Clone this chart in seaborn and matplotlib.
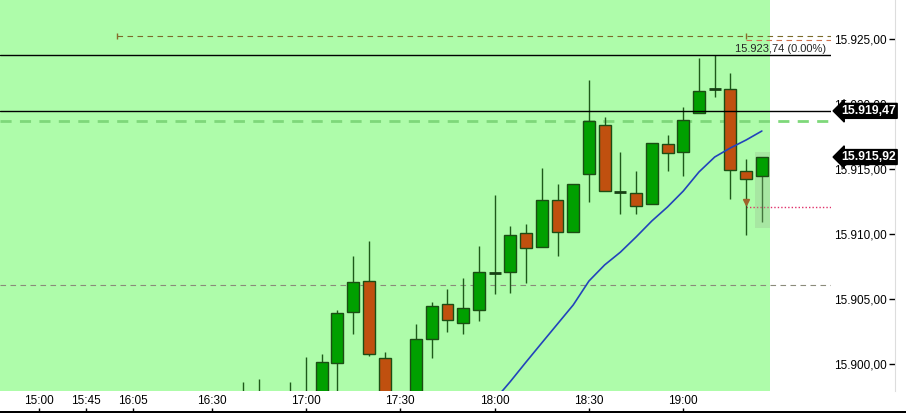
import matplotlib
matplotlib.use("Agg")
import matplotlib.pyplot as plt
import matplotlib.transforms as mtransforms
from matplotlib.patches import Rectangle
import numpy as np
import pandas as pd
import seaborn as sns

# bar index (0 = 17:00 bar), 5 minute candles
bar_idx = list(range(-4, 30))
opens = [15897.2, 15897.6, 15897.1, 15896.6, 15897.4, 15897.2, 15900.08, 15904.0, 15906.38, 15900.46,
         15897.0, 15897.2, 15901.92, 15904.62, 15903.15, 15904.15, 15907.0, 15907.08, 15910.08, 15909.0,
         15912.62, 15910.15, 15914.62, 15918.38, 15913.23, 15913.15, 15912.31, 15916.92, 15916.31, 15919.31,
         15921.15, 15921.15, 15914.85, 15914.46]
highs = [15898.62, 15898.85, 15897.7, 15898.62, 15900.54, 15900.77, 15904.15, 15908.31, 15909.46, 15900.92,
         15897.6, 15903.08, 15904.77, 15905.77, 15906.62, 15909.08, 15913.0, 15910.62, 15910.77, 15915.08,
         15913.85, 15913.85, 15921.85, 15919.0, 15916.31, 15914.85, 15917.0, 15917.62, 15919.77, 15923.54,
         15923.74, 15922.38, 15915.77, 15915.92]
lows = [15896.4, 15896.8, 15896.2, 15895.9, 15896.9, 15896.8, 15897.5, 15902.31, 15900.6, 15896.3,
        15895.8, 15896.5, 15900.46, 15902.46, 15902.31, 15903.31, 15905.38, 15905.46, 15906.23, 15909.0,
        15908.31, 15910.15, 15912.46, 15913.31, 15911.54, 15911.54, 15912.31, 15914.85, 15914.46, 15919.31,
        15920.54, 15912.69, 15909.92, 15910.92]
closes = [15897.6, 15897.1, 15896.6, 15897.4, 15897.8, 15900.15, 15903.92, 15906.31, 15900.77, 15897.0,
          15897.3, 15901.92, 15904.46, 15903.38, 15904.31, 15907.08, 15907.0, 15909.92, 15908.92, 15912.62,
          15910.15, 15913.85, 15918.69, 15913.31, 15913.23, 15912.15, 15917.0, 15916.23, 15918.77, 15921.0,
          15921.15, 15914.92, 15914.23, 15915.92]

# moving average from bar 11 on
ma_idx = list(range(11, 30))
ma_vals = [15896.3, 15897.23, 15898.65, 15900.15, 15901.62, 15903.08, 15904.54, 15906.38, 15907.62, 15908.6,
           15909.77, 15911.0, 15912.08, 15913.3, 15914.77, 15915.92, 15916.62, 15917.23, 15917.92]

time_pos = [-17, -14, -11, -6, 0, 6, 12, 18, 24]
time_labels = ["15:00", "15:45", "16:05", "16:30", "17:00", "17:30", "18:00", "18:30", "19:00"]
price_ticks = [15900, 15905, 15910, 15915, 15920, 15925]

session_high = 15923.74
last_close = 15915.92
black_level = 15919.47
green_level = 15918.69
gray_level = 15906.08
red_dot_level = 15912.08
drawn_level = 15925.23
red_dash_level = 15924.92


def de_fmt(v):
    return f"{v:,.2f}".replace(",", "X").replace(".", ",").replace("X", ".")


sns.set_style("white")
plt.rcParams["font.family"] = ["Liberation Sans", "DejaVu Sans"]

fig = plt.figure(figsize=(9.06, 4.13), dpi=100)
ax = fig.add_axes([0, 22 / 413, 831 / 906, 391 / 413])
ax.set_facecolor("white")

xmin, xmax = -19.47, 33.4
ax.set_xlim(xmin, xmax)
ax.set_ylim(15897.92, 15928.0)
ax.axvspan(xmin, 29.52, color="#AEFCAA", zorder=0, lw=0)

df = pd.DataFrame({"i": bar_idx, "o": opens, "h": highs, "l": lows, "c": closes})
up = "#00A000"
down = "#C0500F"
edge = "#1B4D14"

ax.vlines(df["i"], df["l"], df["h"], color="#1E5A1A", lw=1, zorder=2)
body = df[(df["c"] - df["o"]).abs() >= 0.15]
doji = df[(df["c"] - df["o"]).abs() < 0.15]
ax.bar(body["i"], (body["c"] - body["o"]).abs(), bottom=body[["o", "c"]].min(axis=1), width=0.76,
       color=np.where(body["c"] > body["o"], up, down), edgecolor=edge, lw=1, zorder=3)
ax.hlines(doji["c"], doji["i"] - 0.38, doji["i"] + 0.38, color="#174014", lw=2, zorder=3)

ma = pd.DataFrame({"i": ma_idx, "ma": ma_vals})
sns.lineplot(data=ma, x="i", y="ma", ax=ax, color="#2244BB", lw=1.2, zorder=4)

# horizontal levels
ax.axhline(session_high, color="black", lw=1, zorder=5)
ax.axhline(black_level, color="black", lw=1, zorder=5)
ax.axhline(green_level, color="#7ED87A", lw=2, ls=(0, (4, 3)), zorder=1)
ax.axhline(gray_level, color="#8A8A7A", lw=0.8, ls=(0, (5, 4)), zorder=1)
ax.hlines(drawn_level, -12, xmax, color="#7A6A2A", lw=0.8, ls=(0, (5, 4)), zorder=1)
ax.vlines([-12, 28], drawn_level - 0.2, drawn_level + 0.25, color="#8A6A2A", lw=1, zorder=1)
ax.hlines(red_dash_level, 28, xmax, color="#D2704A", lw=0.8, ls=(0, (5, 4)), zorder=1)
ax.hlines(red_dot_level, 28, xmax, color="#E0306A", lw=1, ls=(0, (1, 1.5)), zorder=1)
ax.plot([28], [red_dot_level + 0.35], marker="v", ms=5, color="#A0622A", zorder=6)
ax.add_patch(Rectangle((28.56, 15910.46), 0.96, 5.85, fc="#9AB890", alpha=0.3, lw=0, zorder=2))

ax.text(33.08, session_high + 0.12, de_fmt(session_high) + " (0.00%)", ha="right", va="bottom",
        fontsize=8, zorder=6)

# price boxes on the right
trans = mtransforms.blended_transform_factory(ax.transAxes, ax.transData)
for lvl in [black_level, last_close]:
    ax.text(1.012, lvl, de_fmt(lvl), transform=trans, ha="left", va="center", color="white", fontsize=8.8,
            fontweight="bold", zorder=10, clip_on=False,
            bbox=dict(boxstyle="larrow,pad=0.12", fc="black", ec="black"))

# axes: y labels on a spine placed at the far right, x labels above a spine at the bottom
for s in ["right", "bottom"]:
    ax.spines[s].set_visible(False)
ax.spines["left"].set_position(("axes", 895 / 831))
ax.spines["left"].set_color("#DDDDDD")
ax.spines["top"].set_position(("axes", -21 / 391))
ax.spines["top"].set_color("black")
ax.spines["top"].set_linewidth(2)
ax.xaxis.set_ticks_position("top")
ax.set_xticks(time_pos)
ax.set_xticklabels(time_labels, fontsize=8.5)
ax.tick_params(axis="x", top=True, direction="out", length=3, width=1, pad=0.5, colors="black")
ax.set_yticks(price_ticks)
ax.set_yticklabels([de_fmt(v) for v in price_ticks], fontsize=8.5)
ax.tick_params(axis="y", left=True, direction="out", length=4, width=1, pad=2, colors="black")
ax.set_xlabel("")
ax.set_ylabel("")

fig.patches.append(Rectangle((0, 0), 1, 2 / 413, transform=fig.transFigure, fc="black", lw=0))

fig.savefig("out.png", dpi=100)
